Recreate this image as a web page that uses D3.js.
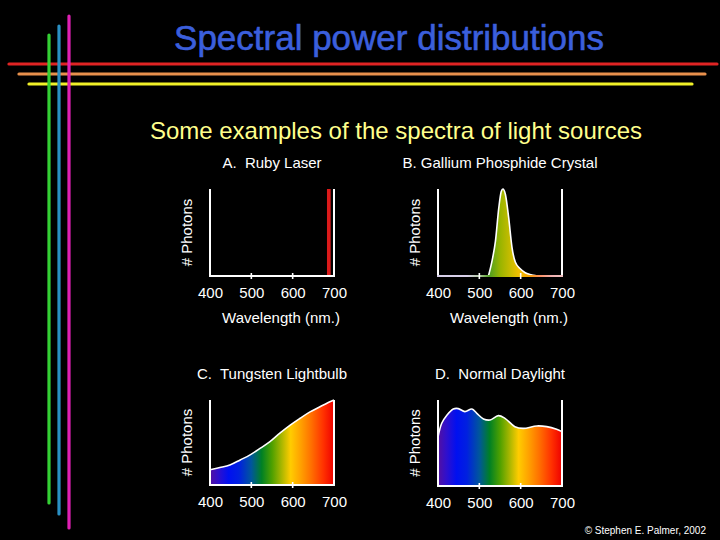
<!DOCTYPE html>
<html><head><meta charset="utf-8">
<script src="https://cdn.jsdelivr.net/npm/d3@7"></script>
<style>
html,body{margin:0;padding:0;background:#000;}
svg{display:block;}
text{font-family:"Liberation Sans",Arial,Helvetica,sans-serif;white-space:pre;}
</style></head>
<body><svg id="c" width="720" height="540"></svg>
<script>
// ---- data ----
const panelTitles = ["A.\u00A0 Ruby Laser", "B. Gallium Phosphide Crystal", "C.\u00A0 Tungsten Lightbulb", "D.\u00A0 Normal Daylight"];
const tickValues = [400, 500, 600, 700];
const rubyBand = [683, 692];           // laser line, nm
const gapWl  = [522, 531, 539, 547, 553, 557, 563, 571, 579, 587, 599, 611, 622, 631, 640];
const gapVal = [0, 0.18, 0.40, 0.78, 0.97, 1.0, 0.94, 0.67, 0.33, 0.16, 0.083, 0.038, 0.018, 0.008, 0];
const tungWl  = [400, 424, 448, 473, 497, 521, 545, 569, 594, 618, 642, 666, 690, 700];
const tungVal = [0.18, 0.205, 0.235, 0.295, 0.355, 0.43, 0.51, 0.61, 0.705, 0.785, 0.86, 0.92, 0.98, 1.0];
const dayWl  = [400, 409, 421, 437, 449, 465, 482, 494, 510, 526, 546, 562, 586, 606, 639, 663, 687, 700];
const dayVal = [0.57, 0.73, 0.82, 0.895, 0.90, 0.865, 0.895, 0.845, 0.78, 0.767, 0.818, 0.787, 0.69, 0.67, 0.698, 0.69, 0.659, 0.632];
const spectrumWl  = [400, 420, 445, 470, 500, 525, 550, 575, 595, 620, 645, 675, 700];
const spectrumCol = ["#5410a0", "#3010cc", "#0010f0", "#0020e0", "#00569c", "#008024", "#4ea000", "#b0b800", "#ffcc00", "#ffa000", "#ff7000", "#ff3000", "#ee0000"];
const gapCol = ["#d8d0ea", "#d8d0ea", "#d8d0ea", "#d8d0ea", "#b0c8a0", "#50a020", "#98b400", "#c8bc00", "#f0c000", "#f8a000", "#ff9060", "#f0b0b0", "#f0c0c0"];

const svg = d3.select("#c");
svg.append("rect").attr("width", 720).attr("height", 540).attr("fill", "#000");

// decorative lines
const hLines = [{y:64, x1:9, x2:717, c:"#e02424"}, {y:74, x1:19, x2:705, c:"#e8904c"}, {y:84, x1:29, x2:692, c:"#f0f028"}];
const vLines = [{x:49, y1:35, y2:503, c:"#34d034"}, {x:59, y1:26, y2:514, c:"#2a90c4"}, {x:69, y1:16, y2:528, c:"#e020b4"}];
svg.selectAll("line.h").data(hLines).join("line").attr("class","h")
  .attr("x1", d=>d.x1).attr("x2", d=>d.x2).attr("y1", d=>d.y).attr("y2", d=>d.y)
  .attr("stroke", d=>d.c).attr("stroke-width", 3.2).attr("stroke-linecap","round");
svg.selectAll("line.v").data(vLines).join("line").attr("class","v")
  .attr("x1", d=>d.x).attr("x2", d=>d.x).attr("y1", d=>d.y1).attr("y2", d=>d.y2)
  .attr("stroke", d=>d.c).attr("stroke-width", 3.2).attr("stroke-linecap","round");

svg.append("text").attr("x", 389).attr("y", 50).attr("text-anchor","middle")
  .attr("fill", "#3b5fdc").attr("font-size", 35)
  .style("stroke", "#3b5fdc").style("stroke-width", 0.6)
  .text("Spectral power distributions");
svg.append("text").attr("x", 396).attr("y", 139).attr("text-anchor","middle")
  .attr("fill", "#ffff8c").attr("font-size", 24)
  .text("Some examples of the spectra of light sources");
svg.append("text").attr("x", 706).attr("y", 534).attr("text-anchor","end")
  .attr("fill", "#fff").attr("font-size", 10)
  .text("\u00A9 Stephen E. Palmer, 2002");

const defs = svg.append("defs");

const panels = [
  {x0:210, x1:334, y0:276, y1:189, labels:true},
  {x0:438, x1:562, y0:276, y1:189, labels:true},
  {x0:210, x1:334, y0:485, y1:400, labels:false},
  {x0:438, x1:562, y0:486, y1:400, labels:false}
];

panels.forEach((p, i) => {
  const x = d3.scaleLinear().domain([400, 700]).range([p.x0, p.x1]);
  const y = d3.scaleLinear().domain([0, 1]).range([p.y0, p.y1]);
  const g = svg.append("g");
  const gid = "spec" + i;
  const cols = i === 1 ? gapCol : spectrumCol;
  const grad = defs.append("linearGradient").attr("id", gid)
    .attr("gradientUnits", "userSpaceOnUse")
    .attr("x1", x(400)).attr("x2", x(700)).attr("y1", 0).attr("y2", 0);
  grad.selectAll("stop").data(spectrumWl).join("stop")
    .attr("offset", d => (d - 400) / 300).attr("stop-color", (d, k) => cols[k]);

  const mid = (p.x0 + p.x1) / 2;
  g.append("text").attr("x", mid).attr("y", p.y1 - 21).attr("text-anchor","middle")
    .attr("fill","#fff").attr("font-size", 15).text(panelTitles[i]);
  g.append("text").attr("transform", `translate(${p.x0 - 18},${(p.y0 + p.y1)/2}) rotate(-90)`)
    .attr("text-anchor","middle").attr("fill","#fff").attr("font-size", 15).text("# Photons");

  // data marks
  if (i === 0) {
    g.append("rect").attr("x", x(rubyBand[0])).attr("width", x(rubyBand[1]) - x(rubyBand[0]))
      .attr("y", y(1)).attr("height", y(0) - y(1)).attr("fill", "#dc1a1a");
  } else {
    const wl = i === 1 ? gapWl : i === 2 ? tungWl : dayWl;
    const v  = i === 1 ? gapVal : i === 2 ? tungVal : dayVal;
    const pts = wl.map((w, k) => [w, v[k]]);
    const curve = i === 1 ? d3.curveMonotoneX : d3.curveCatmullRom.alpha(0.5);
    const area = d3.area().x(d => x(d[0])).y0(y(0)).y1(d => y(d[1])).curve(curve);
    const line = d3.line().x(d => x(d[0])).y(d => y(d[1])).curve(curve);
    g.append("path").datum(pts).attr("d", area).attr("fill", `url(#${gid})`);
    g.append("path").datum(pts).attr("d", line).attr("fill","none")
      .attr("stroke","#fff").attr("stroke-width", 1.6);
  }

  // frame
  g.append("line").attr("x1", p.x0).attr("x2", p.x0).attr("y1", p.y1).attr("y2", p.y0)
    .attr("stroke","#fff").attr("stroke-width", 2);
  g.append("line").attr("x1", p.x1).attr("x2", p.x1).attr("y1", p.y1).attr("y2", p.y0)
    .attr("stroke","#fff").attr("stroke-width", 2);
  g.append("line").attr("x1", p.x0 - 1).attr("x2", p.x1 + 1).attr("y1", p.y0).attr("y2", p.y0)
    .attr("stroke", i === 1 ? `url(#${gid})` : "#fff").attr("stroke-width", 2);
  g.selectAll("line.tk").data(tickValues.slice(1, 3)).join("line").attr("class","tk")
    .attr("x1", d => x(d)).attr("x2", d => x(d)).attr("y1", p.y0 - 3).attr("y2", p.y0 + 3)
    .attr("stroke","#fff").attr("stroke-width", 1.6);

  const ax = d3.axisBottom(x).tickValues(tickValues).tickSize(0).tickPadding(11).tickFormat(d3.format("d"));
  const axg = g.append("g").attr("transform", `translate(0,${p.y0})`).call(ax);
  axg.select(".domain").remove();
  axg.selectAll("text").attr("fill","#fff").attr("font-size", 15)
    .attr("font-family", '"Liberation Sans",Arial,sans-serif');

  if (p.labels) {
    g.append("text").attr("x", mid + 9).attr("y", p.y0 + 47).attr("text-anchor","middle")
      .attr("fill","#fff").attr("font-size", 15).text("Wavelength (nm.)");
  }
});
</script>
</body></html>
